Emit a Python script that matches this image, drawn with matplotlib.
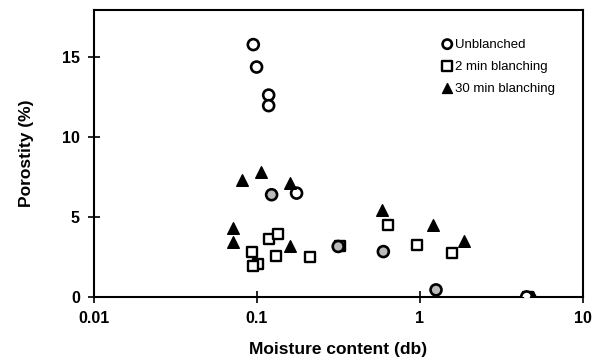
"""Porosity vs moisture content for unblanched and blanched samples (log x)."""
import matplotlib
matplotlib.use('Agg')
import matplotlib.pyplot as plt

plt.rcParams['font.family'] = ['Liberation Sans', 'DejaVu Sans']

# unblanched
unb_x = [0.095, 0.0995, 0.118, 0.118, 0.123, 0.175, 0.315, 0.596, 1.254, 4.51]
unb_y = [15.75, 14.35, 12.6, 11.94, 6.38, 6.48, 3.15, 2.83, 0.44, 0.0]
unb_face = ['white', 'white', 'white', 'white', '#bbbbbb', 'white',
            '#bbbbbb', '#bbbbbb', '#bbbbbb', 'white']

# 2 min blanching
b2_x = [0.0928, 0.102, 0.095, 0.118, 0.135, 0.130, 0.213, 0.325, 0.639, 0.963, 1.58, 4.6]
b2_y = [2.83, 2.06, 1.9, 3.63, 3.92, 2.58, 2.52, 3.2, 4.5, 3.25, 2.77, 0.0]

# 30 min blanching
b30_x = [0.0813, 0.106, 0.159, 0.0716, 0.071, 0.159, 0.582, 1.21, 1.86, 4.96]
b30_y = [7.31, 7.77, 7.1, 4.29, 3.46, 3.19, 5.44, 4.5, 3.52, 0.0]

fig = plt.figure(figsize=(5.98, 3.63), dpi=100, facecolor='white')
ax = fig.add_axes([0.157, 0.182, 0.818, 0.790])

ms = 62
ax.scatter(b2_x, b2_y, marker='s', s=ms, facecolors='white', edgecolors='black',
           linewidths=1.7, label='2 min blanching', zorder=3)
ax.scatter(unb_x, unb_y, marker='o', s=ms, facecolors=unb_face, edgecolors='black',
           linewidths=1.9, label='Unblanched', zorder=4)
ax.scatter(b30_x, b30_y, marker='^', s=ms + 8, color='black',
           label='30 min blanching', zorder=5)

ax.set_xscale('log')
ax.set_xlim(0.01, 10)
ax.set_ylim(0, 17.9)
ax.set_xticks([0.01, 0.1, 1, 10])
ax.set_xticklabels(['0.01', '0.1', '1', '10'])
ax.set_yticks([0, 5, 10, 15])
ax.minorticks_off()
ax.tick_params(direction='inout', length=8, width=1.2, labelsize=11.5)
ax.tick_params(axis='x', pad=6)
ax.tick_params(axis='y', pad=6)
for lab in ax.get_xticklabels() + ax.get_yticklabels():
    lab.set_fontweight('bold')
for sp in ax.spines.values():
    sp.set_linewidth(1.5)

ax.set_xlabel('Moisture content (db)', fontsize=12.5, fontweight='bold', labelpad=12)
ax.set_ylabel('Porostity (%)', fontsize=12.5, fontweight='bold', labelpad=20)

handles, labels = ax.get_legend_handles_labels()
order = [1, 0, 2]
ax.legend([handles[i] for i in order], [labels[i] for i in order],
          loc='upper left', bbox_to_anchor=(0.69, 0.92), frameon=False,
          fontsize=9.5, handletextpad=-0.2, handlelength=1.6, labelspacing=0.75,
          markerscale=0.85, borderaxespad=0.0)

plt.savefig('out.png', dpi=100, facecolor='white')
